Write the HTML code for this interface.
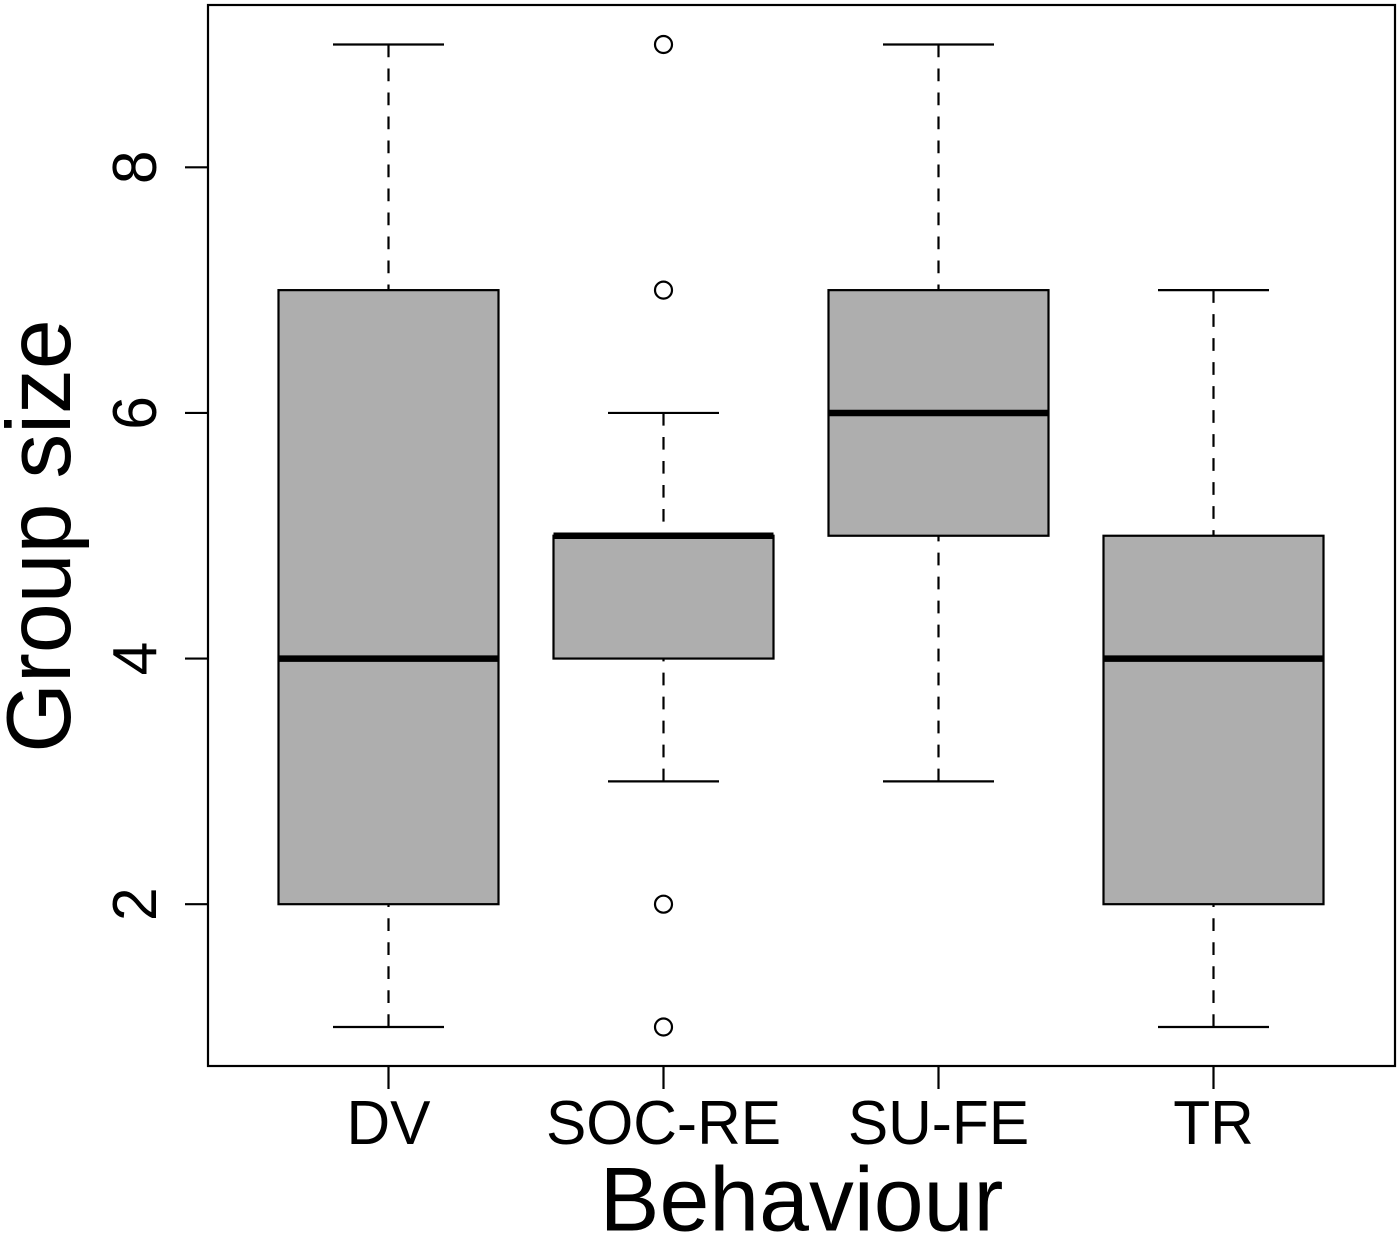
<!DOCTYPE html>
<html>
<head>
<meta charset="utf-8">
<style>
html,body{margin:0;padding:0;background:#fff;width:1400px;height:1236px;overflow:hidden}
svg{display:block;font-family:"Liberation Sans",Arial,sans-serif}
</style>
</head>
<body>
<svg id="chart" width="1400" height="1236" viewBox="0 0 1400 1236" xmlns="http://www.w3.org/2000/svg">
<rect x="208" y="5" width="1187" height="1061" fill="none" stroke="#000" stroke-width="2.2"/>
<text class="t" x="801.5" y="1230.5" font-size="91" text-anchor="middle">Behaviour</text>
<text class="t" transform="translate(70 536) rotate(-90)" font-size="91" text-anchor="middle">Group size</text>
<g id="layer"></g>
</svg>
<script>
const categories = ["DV", "SOC-RE", "SU-FE", "TR"];
const whiskerLow = [1, 3, 3, 1];
const q1 = [2, 4, 5, 2];
const medians = [4, 5, 6, 4];
const q3 = [7, 5, 7, 5];
const whiskerHigh = [9, 6, 9, 7];
const outliers = [[], [9, 7, 2, 1], [], []];
const yTicks = [2, 4, 6, 8];

const NS = "http://www.w3.org/2000/svg";
const layer = document.getElementById("layer");
const yScale = v => 1027 - (v - 1) * (1027 - 44.5) / 8;
const xScale = i => 388.5 + i * 275;
function mk(tag, attrs, parent) {
  const el = document.createElementNS(NS, tag);
  for (const k in attrs) el.setAttribute(k, attrs[k]);
  (parent || layer).appendChild(el);
  return el;
}
yTicks.forEach(t => {
  const y = yScale(t);
  const tick = mk("line", {x1: 185, x2: 208, y1: y, y2: y, stroke: "#000", "stroke-width": 2.2});
  
  
  const label = mk("text", {class: "t", transform: `translate(156 ${y}) rotate(-90)`, "font-size": 62, "text-anchor": "middle"});
  label.textContent = t;
  
  
});
categories.forEach((c, i) => {
  const x = xScale(i);
  const halfBox = 110, halfCap = 55.5;
  const g = mk("g", {});
  
  
  const tick = mk("line", {x1: x, x2: x, y1: 1066, y2: 1089, stroke: "#000", "stroke-width": 2.2}, g);
  
  
  const label = mk("text", {class: "t", x: x, y: 1144, "font-size": 62, "text-anchor": "middle"}, g);
  label.textContent = c;
  
  
  [[whiskerHigh[i], q3[i]], [whiskerLow[i], q1[i]]].forEach(p => {
    const w = mk("line", {x1: x, x2: x, y1: yScale(p[0]), y2: yScale(p[1]), stroke: "#000", "stroke-width": 2.2, "stroke-dasharray": "12.7 11.3"}, g);
    
    
    const cap = mk("line", {x1: x - halfCap, x2: x + halfCap, y1: yScale(p[0]), y2: yScale(p[0]), stroke: "#000", "stroke-width": 2.2}, g);
    
    
  });
  const box = mk("rect", {x: x - halfBox, y: yScale(q3[i]), width: halfBox * 2, height: yScale(q1[i]) - yScale(q3[i]), fill: "#aeaeae", stroke: "#000", "stroke-width": 2.2}, g);
  
  
  const med = mk("line", {x1: x - halfBox, x2: x + halfBox, y1: yScale(medians[i]), y2: yScale(medians[i]), stroke: "#000", "stroke-width": 6.5}, g);
  
  
  outliers[i].forEach(v => {
    const pt = mk("circle", {cx: x, cy: yScale(v), r: 8.5, fill: "#fff", stroke: "#000", "stroke-width": 2.2}, g);
    
    
  });
});
document.querySelectorAll("text.t").forEach(t => {
  const ratio = t.getAttribute("font-size") === "91" ? 0.985 : 0.975;
  t.setAttribute("textLength", t.getComputedTextLength() * ratio);
  t.setAttribute("lengthAdjust", "spacingAndGlyphs");
});
</script>
</body>
</html>
